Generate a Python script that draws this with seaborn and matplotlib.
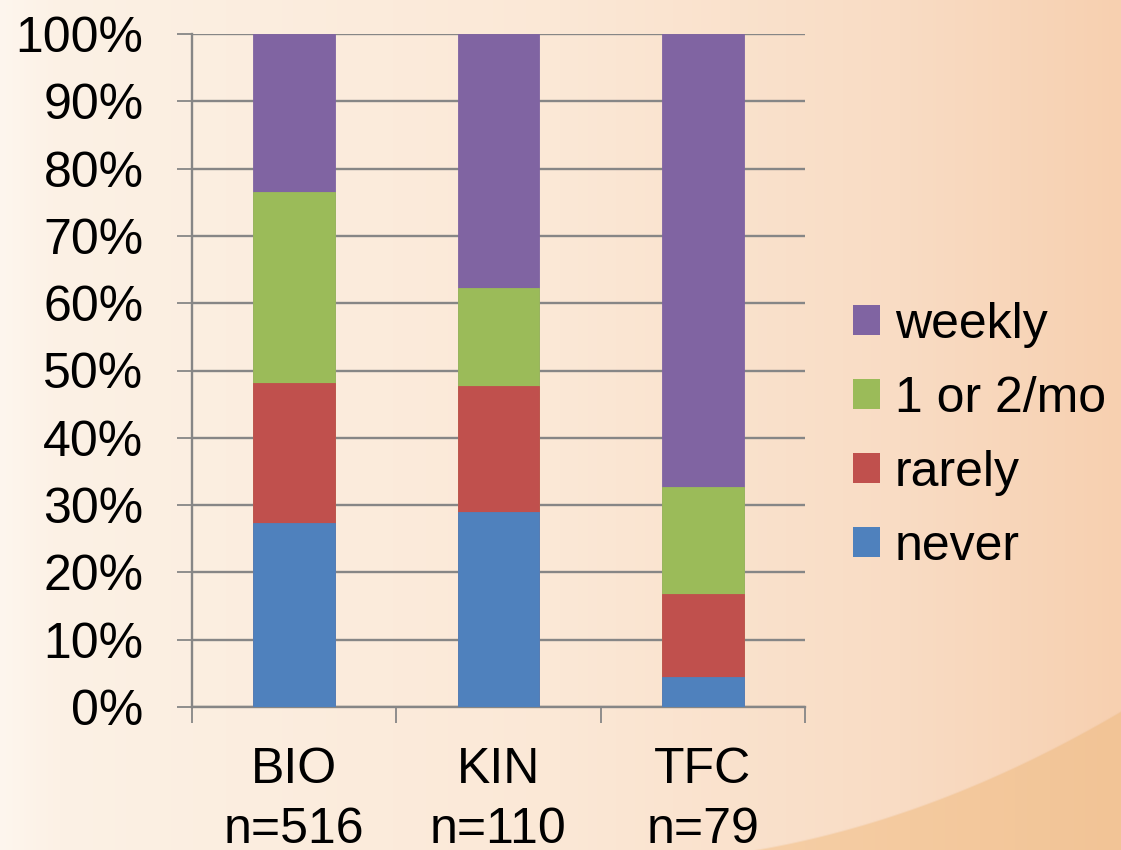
import numpy as np
import pandas as pd
import matplotlib
matplotlib.use("Agg")
import matplotlib.pyplot as plt
import seaborn as sns
from matplotlib.patches import Patch
from matplotlib.ticker import FixedLocator, FuncFormatter

# Share of respondents (%) by how often they do the activity
programs = ["BIO", "KIN", "TFC"]
sample_sizes = [516, 110, 79]
never = [27.3, 29.0, 4.5]
rarely = [20.9, 18.7, 12.3]
monthly = [28.3, 14.5, 15.9]
weekly = [23.5, 37.8, 67.3]

levels = ["never", "rarely", "1 or 2/mo", "weekly"]
colors = ["#4F81BD", "#C0504D", "#9BBB59", "#8064A2"]

df = pd.DataFrame({"program": programs, "never": never, "rarely": rarely,
                   "1 or 2/mo": monthly, "weekly": weekly})
cum = df[levels].cumsum(axis=1)

sns.set_theme(style="white")
plt.rcParams["font.family"] = ["Liberation Sans", "DejaVu Sans"]
plt.rcParams["text.color"] = "black"
plt.rcParams["xtick.color"] = "black"
plt.rcParams["ytick.color"] = "black"

W, H = 1121, 850
fig = plt.figure(figsize=(W / 100, H / 100), dpi=100)

# warm slide background with a darker swoosh in the lower right
bg_ax = fig.add_axes([0, 0, 1, 1], zorder=-10)
xs = np.arange(W)
ys = np.arange(H)
stops_x = [0, 60, 560, 900, 1121]
base = np.stack([
    np.interp(xs, stops_x, [254, 252, 251, 249, 247]),
    np.interp(xs, stops_x, [246, 241, 232, 220, 208]),
    np.interp(xs, stops_x, [238, 229, 214, 196, 176]),
], axis=1)
img = np.repeat(base[None, :, :], H, axis=0)
swoosh = np.polyfit([800, 967, 1121], [840, 787, 710], 2)
curve = np.where(xs > 720, np.polyval(swoosh, xs), 5000.0)
dark = np.stack([
    np.interp(xs, [700, 1121], [246, 242]),
    np.interp(xs, [700, 1121], [208, 196]),
    np.interp(xs, [700, 1121], [168, 150]),
], axis=1)
dist = ys[:, None] - curve[None, :]
blend = np.clip(dist / 2.0, 0, 1)[:, :, None]
dark_img = np.repeat(dark[None, :, :], H, axis=0)
img = img * (1 - blend) + dark_img * blend
bg_ax.imshow(img.astype(np.uint8), aspect="auto", extent=[0, 1, 0, 1])
bg_ax.axis("off")

ax = fig.add_axes([192 / W, 1 - 707 / H, (805 - 192) / W, (707 - 34) / H])
ax.set_facecolor("none")

# stacked bars: draw cumulative totals from the top segment down
for lvl, col in reversed(list(zip(levels, colors))):
    sns.barplot(x=df["program"], y=cum[lvl], color=col, saturation=1,
                width=0.4, ax=ax, zorder=3, edgecolor=col, linewidth=0.6)

ax.set_xlim(-0.5, 2.5)
ax.set_ylim(0, 100)
ax.set_xlabel("")
ax.set_ylabel("")

grid_col = "#868686"
ax.yaxis.set_major_locator(FixedLocator(np.arange(0, 101, 10)))
ax.yaxis.set_major_formatter(FuncFormatter(lambda v, p: f"{v:.0f}%"))
ax.grid(axis="y", color=grid_col, linewidth=1.7, zorder=0)
ax.grid(axis="x", visible=False)
ax.set_axisbelow(True)

ax.xaxis.set_major_locator(FixedLocator([-0.5, 0.5, 1.5, 2.5]))
ax.xaxis.set_major_formatter(FuncFormatter(lambda v, p: ""))
ax.xaxis.set_minor_locator(FixedLocator([0, 1, 2]))
ax.set_xticklabels([f"{p}\nn={n}" for p, n in zip(programs, sample_sizes)],
                   minor=True, fontsize=36, linespacing=1.38, va="top",
                   color="black")
ax.tick_params(axis="x", which="major", length=11.5, width=1.3,
               color=grid_col, direction="out", bottom=True)
ax.tick_params(axis="x", which="minor", length=0, pad=29, bottom=True)
ax.tick_params(axis="y", which="major", length=11, width=1.3,
               color=grid_col, labelcolor="black", direction="out",
               left=True, labelsize=36, pad=24)

for s in ["top", "right"]:
    ax.spines[s].set_visible(False)
for s in ["left", "bottom"]:
    ax.spines[s].set_color(grid_col)
    ax.spines[s].set_linewidth(1.7)

handles = [Patch(facecolor=c, edgecolor="none") for c in reversed(colors)]
fig.legend(handles, list(reversed(levels)), loc="center left",
           bbox_to_anchor=(853 / W, 1 - 436 / H), frameon=False,
           fontsize=36, handlelength=0.54, handleheight=0.54,
           handletextpad=0.3, labelspacing=0.56, borderpad=0,
           borderaxespad=0, labelcolor="black")

fig.savefig("out.png", dpi=100)
